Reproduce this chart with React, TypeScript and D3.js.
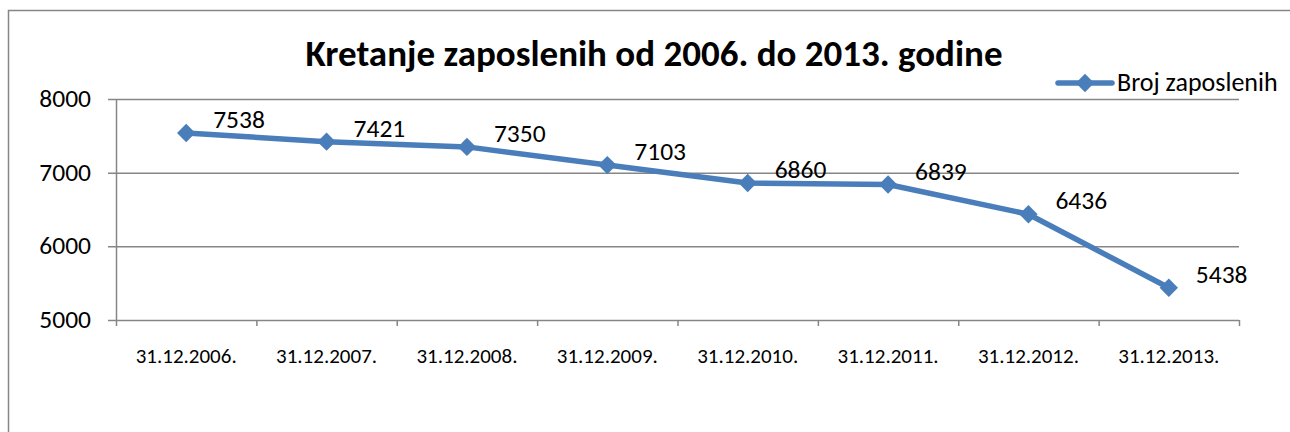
import * as d3 from 'd3';
import { useEffect, useRef } from 'react';

const categories = ['31.12.2006.', '31.12.2007.', '31.12.2008.', '31.12.2009.', '31.12.2010.', '31.12.2011.', '31.12.2012.', '31.12.2013.'];
const values = [7538, 7421, 7350, 7103, 6860, 6839, 6436, 5438];
const yTicks = [5000, 6000, 7000, 8000];
const seriesName = 'Broj zaposlenih';
const title = 'Kretanje zaposlenih od 2006. do 2013. godine';

const blue = '#4a7ebb';
const grey = '#868686';
const font = 'Carlito, Calibri, "Open Sans", "Liberation Sans", sans-serif';

export default function App() {
  const ref = useRef<SVGSVGElement>(null);

  useEffect(() => {
    const svg = d3.select(ref.current);
    svg.selectAll('*').remove();

    //plot area
    const left = 116;
    const right = 1239;
    const top = 99;
    const bottom = 320;

    const x = d3.scaleBand<string>().domain(categories).range([left, right]);
    const y = d3.scaleLinear().domain([5000, 8000]).range([bottom, top]);

    //outer frame
    svg
      .append('rect')
      .attr('x', 8.5)
      .attr('y', 10.5)
      .attr('width', 1300)
      .attr('height', 440)
      .attr('fill', 'white')
      .attr('stroke', grey)
      .attr('stroke-width', 1.5);

    //gridlines
    svg
      .append('g')
      .selectAll('line')
      .data(yTicks.slice(1))
      .join('line')
      .attr('x1', left - 8)
      .attr('x2', right)
      .attr('y1', (d) => y(d) + 0.5)
      .attr('y2', (d) => y(d) + 0.5)
      .attr('stroke', grey)
      .attr('stroke-width', 1.5);

    //y axis
    svg
      .append('line')
      .attr('x1', left + 0.5)
      .attr('x2', left + 0.5)
      .attr('y1', top)
      .attr('y2', bottom)
      .attr('stroke', grey)
      .attr('stroke-width', 1.5);
    svg
      .append('line')
      .attr('x1', left - 8)
      .attr('x2', left)
      .attr('y1', bottom + 0.5)
      .attr('y2', bottom + 0.5)
      .attr('stroke', grey)
      .attr('stroke-width', 1.5);
    svg
      .append('g')
      .selectAll('text')
      .data(yTicks)
      .join('text')
      .attr('x', 91)
      .attr('y', (d) => y(d) + 8)
      .attr('text-anchor', 'end')
      .style('font-family', font)
      .style('font-size', '25.5px')
      .text((d) => d);

    //x axis
    svg
      .append('line')
      .attr('x1', left)
      .attr('x2', right)
      .attr('y1', bottom + 0.5)
      .attr('y2', bottom + 0.5)
      .attr('stroke', grey)
      .attr('stroke-width', 1.5);
    const edges = [...categories.map((c) => x(c) ?? 0), right];
    svg
      .append('g')
      .selectAll('line')
      .data(edges)
      .join('line')
      .attr('x1', (d) => d + 0.5)
      .attr('x2', (d) => d + 0.5)
      .attr('y1', bottom)
      .attr('y2', bottom + 6)
      .attr('stroke', grey)
      .attr('stroke-width', 1.5);
    svg
      .append('g')
      .selectAll('text')
      .data(categories)
      .join('text')
      .attr('x', (d) => (x(d) ?? 0) + x.bandwidth() / 2)
      .attr('y', 363)
      .attr('text-anchor', 'middle')
      .style('font-family', font)
      .style('font-size', '21px')
      .text((d) => d);

    //line
    const cx = (i: number) => (x(categories[i]) ?? 0) + x.bandwidth() / 2;
    const line = d3
      .line<number>()
      .x((_d, i) => cx(i))
      .y((d) => y(d));
    svg
      .append('path')
      .datum(values)
      .attr('fill', 'none')
      .attr('stroke', blue)
      .attr('stroke-width', 5.5)
      .attr('stroke-linejoin', 'round')
      .attr('d', line);

    const diamond = d3.symbol(d3.symbolDiamond2, 215);
    svg
      .append('g')
      .selectAll('path')
      .data(values)
      .join('path')
      .attr('transform', (d, i) => `translate(${cx(i)},${y(d)})`)
      .attr('d', diamond)
      .attr('fill', blue);

    //data labels
    svg
      .append('g')
      .selectAll('text')
      .data(values)
      .join('text')
      .attr('x', (_d, i) => cx(i) + 27)
      .attr('y', (d) => y(d) - 5)
      .style('font-family', font)
      .style('font-size', '25.5px')
      .text((d) => d);

    //title
    svg
      .append('text')
      .attr('x', 654)
      .attr('y', 66)
      .attr('text-anchor', 'middle')
      .style('font-family', font)
      .style('font-size', '37px')
      .style('font-weight', 'bold')
      .text(title);

    //legend
    const lg = svg.append('g').attr('transform', 'translate(1058,83)');
    lg.append('line')
      .attr('x1', 0)
      .attr('x2', 54)
      .attr('stroke', blue)
      .attr('stroke-width', 5.5)
      .attr('stroke-linecap', 'round');
    lg.append('path').attr('transform', 'translate(27,0)').attr('d', diamond).attr('fill', blue);
    lg.append('text')
      .attr('x', 59)
      .attr('y', 8)
      .style('font-family', font)
      .style('font-size', '26px')
      .text(seriesName);
  }, []);

  return (
    <svg
      ref={ref}
      width={1290}
      height={432}
      style={{ position: 'absolute', left: 0, top: 0, display: 'block' }}
    />
  );
}
